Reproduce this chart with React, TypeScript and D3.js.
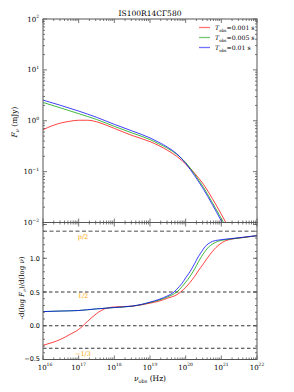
import React from 'react';
import * as d3 from 'd3';

// frequency exponents (log10 nu) and values
const fluxNuBlue = [16, 16.5, 17, 17.5, 18, 18.5, 19, 19.25, 19.5, 19.75, 20, 20.25, 20.5, 20.75, 21, 21.25];
const fluxBlue = [2.55, 2.0, 1.55, 1.17, 0.85, 0.63, 0.46, 0.376, 0.3, 0.224, 0.145, 0.083, 0.045, 0.0224, 0.0107, 0.0051];
const fluxGreen = [2.29, 1.78, 1.38, 1.06, 0.776, 0.575, 0.427, 0.351, 0.285, 0.219, 0.151, 0.089, 0.049, 0.0245, 0.012, 0.0058];
const fluxNuRed = [16, 16.25, 16.5, 16.75, 17, 17.25, 17.5, 17.75, 18, 18.5, 19, 19.25, 19.5, 19.75, 20, 20.25, 20.5, 20.75, 21, 21.25];
const fluxRed = [0.667, 0.794, 0.902, 0.977, 1.023, 1.023, 0.955, 0.832, 0.708, 0.513, 0.389, 0.324, 0.26, 0.2, 0.141, 0.093, 0.056, 0.0295, 0.0145, 0.0069];

const slopeNuBlue = [16, 16.5, 17, 17.5, 18, 18.5, 18.75, 19, 19.25, 19.5, 19.65, 19.75, 19.9, 20, 20.12, 20.25, 20.35, 20.45, 20.54, 20.65, 20.75, 20.92, 21.25, 21.5, 22];
const slopeBlue = [0.21, 0.218, 0.226, 0.25, 0.27, 0.292, 0.315, 0.35, 0.39, 0.445, 0.49, 0.54, 0.63, 0.71, 0.8, 0.92, 1.02, 1.1, 1.17, 1.22, 1.25, 1.27, 1.29, 1.305, 1.335];
const slopeNuGreen = [16, 16.5, 17, 17.5, 18, 18.5, 18.75, 19, 19.25, 19.5, 19.75, 19.9, 20, 20.12, 20.25, 20.35, 20.45, 20.54, 20.65, 20.75, 20.9, 21.05, 21.25, 21.5, 22];
const slopeGreen = [0.21, 0.218, 0.226, 0.25, 0.27, 0.29, 0.312, 0.345, 0.38, 0.43, 0.5, 0.58, 0.645, 0.73, 0.84, 0.94, 1.03, 1.1, 1.17, 1.21, 1.25, 1.27, 1.285, 1.3, 1.335];
const slopeNuRed = [16, 16.25, 16.5, 16.75, 17, 17.25, 17.5, 17.75, 18, 18.5, 19, 19.25, 19.5, 19.75, 19.86, 20, 20.12, 20.25, 20.35, 20.5, 20.63, 20.75, 20.85, 20.96, 21.1, 21.25, 21.5, 22];
const slopeRed = [-0.29, -0.25, -0.2, -0.13, -0.055, 0.065, 0.18, 0.255, 0.278, 0.29, 0.335, 0.365, 0.41, 0.46, 0.5, 0.57, 0.64, 0.73, 0.81, 0.92, 1.02, 1.1, 1.16, 1.21, 1.255, 1.28, 1.3, 1.335];

const legendLabels = ['0.001', '0.005', '0.01'];
const colors = ['#ff0000', '#00a000', '#0000ff'];
const refLines = [0.5, 0.0, -1 / 3];
const pHalf = 1.4;
const xTickExps = [16, 17, 18, 19, 20, 21, 22];
const yTopExps = [-2, -1, 0, 1, 2];
const yBotTicks = [-0.5, 0.0, 0.5, 1.0];

const L = 43, R = 257, T = 19, M = 222.5, B = 359.5;
const serif = '"DejaVu Serif", serif';
const sans = '"DejaVu Sans", sans-serif';
const axisCol = '#555';

export default function App() {
  const x = d3.scaleLog().domain([1e16, 1e22]).range([L, R]);
  const yTop = d3.scaleLog().domain([1e-2, 1e2]).range([M, T]);
  const yBot = d3.scaleLinear().domain([-0.5, 1.53]).range([B, M]);

  const topLine = d3.line<[number, number]>()
    .x(d => x(Math.pow(10, d[0])))
    .y(d => yTop(d[1]))
    .curve(d3.curveMonotoneX);
  const botLine = d3.line<[number, number]>()
    .x(d => x(Math.pow(10, d[0])))
    .y(d => yBot(d[1]))
    .curve(d3.curveMonotoneX);

  const zip = (a: number[], b: number[]) => a.map((v, i) => [v, b[i]] as [number, number]);
  const fluxSeries = [zip(fluxNuRed, fluxRed), zip(fluxNuBlue, fluxGreen), zip(fluxNuBlue, fluxBlue)];
  const slopeSeries = [zip(slopeNuRed, slopeRed), zip(slopeNuGreen, slopeGreen), zip(slopeNuBlue, slopeBlue)];

  // minor ticks for log axes
  const xMinor: number[] = [];
  for (let e = 16; e < 22; e++) for (let k = 2; k <= 9; k++) xMinor.push(k * Math.pow(10, e));
  const yMinor: number[] = [];
  for (let e = -2; e < 2; e++) for (let k = 2; k <= 9; k++) yMinor.push(k * Math.pow(10, e));
  const yBotMinor = d3.range(-5, 16).map(v => v / 10);

  const ticks: JSX.Element[] = [];
  const tk = (x1: number, y1: number, x2: number, y2: number) =>
    ticks.push(<line key={ticks.length} x1={x1} y1={y1} x2={x2} y2={y2} stroke={axisCol} strokeWidth={0.8} />);

  xTickExps.forEach(e => {
    const px = x(Math.pow(10, e));
    [T, M].forEach(yy => tk(px, yy, px, yy + 4));
    [M, B].forEach(yy => tk(px, yy, px, yy - 4));
  });
  xMinor.forEach(v => {
    const px = x(v);
    [T, M].forEach(yy => tk(px, yy, px, yy + 2));
    [M, B].forEach(yy => tk(px, yy, px, yy - 2));
  });
  yTopExps.forEach(e => {
    const py = yTop(Math.pow(10, e));
    tk(L, py, L + 4, py); tk(R, py, R - 4, py);
  });
  yMinor.forEach(v => {
    const py = yTop(v);
    tk(L, py, L + 2, py); tk(R, py, R - 2, py);
  });
  [...yBotTicks, 1.5].forEach(v => {
    const py = yBot(v);
    tk(L, py, L + 4, py); tk(R, py, R - 4, py);
  });
  yBotMinor.forEach(v => {
    const py = yBot(v);
    tk(L, py, L + 2, py); tk(R, py, R - 2, py);
  });

  return (
    <svg width={294} height={392} style={{ position: 'absolute', left: 0, top: 0 }}>
      <rect width={294} height={392} fill="#fff" />
      <defs>
        <clipPath id="clipTop"><rect x={L} y={T} width={R - L} height={M - T} /></clipPath>
        <clipPath id="clipBot"><rect x={L} y={M} width={R - L} height={B - M} /></clipPath>
      </defs>

      <text x={150} y={16} textAnchor="middle" fontFamily={serif} fontSize={7.5}>IS100R14CΓ580</text>

      {/* reference lines */}
      <line x1={L} x2={R} y1={yBot(pHalf)} y2={yBot(pHalf)} stroke="#888" strokeWidth={1.3} strokeDasharray="4,2.5" />
      {refLines.map((v, i) => (
        <line key={i} x1={L} x2={R} y1={yBot(v)} y2={yBot(v)} stroke="#000" strokeWidth={0.8} strokeDasharray="3.5,2.5" />
      ))}
      <text x={83} y={239} textAnchor="middle" fill="#ffa500" fontFamily={serif} fontSize={6.5}>p/2</text>
      <text x={83} y={298} textAnchor="middle" fill="#ffa500" fontFamily={serif} fontSize={6.5}>1/2</text>
      <text x={83} y={356} textAnchor="middle" fill="#ffa500" fontFamily={serif} fontSize={6.5}>−1/3</text>

      <g clipPath="url(#clipTop)">
        {fluxSeries.map((s, i) => (
          <path key={i} d={topLine(s) || ''} fill="none" stroke={colors[i]} strokeOpacity={0.75} strokeWidth={1} />
        ))}
      </g>
      <g clipPath="url(#clipBot)">
        {slopeSeries.map((s, i) => (
          <path key={i} d={botLine(s) || ''} fill="none" stroke={colors[i]} strokeOpacity={0.75} strokeWidth={1} />
        ))}
      </g>

      {ticks}
      <rect x={L} y={T} width={R - L} height={M - T} fill="none" stroke={axisCol} strokeWidth={1} />
      <rect x={L} y={M} width={R - L} height={B - M} fill="none" stroke={axisCol} strokeWidth={1} />

      {/* top y tick labels */}
      {yTopExps.map(e => (
        <text key={e} x={39} y={yTop(Math.pow(10, e)) + 2.5} textAnchor="end" fontFamily={serif} fontSize={7}>
          10<tspan fontSize={4.5} dy={-3.5}>{e < 0 ? '−' + Math.abs(e) : e}</tspan>
        </text>
      ))}
      {/* bottom y tick labels */}
      {yBotTicks.map(v => (
        <text key={v} x={40} y={yBot(v) + (v < 0 ? 1.5 : 2.5)} textAnchor="end" fontFamily={sans} fontSize={6.5}>
          {(v < 0 ? '−' : '') + Math.abs(v).toFixed(1)}
        </text>
      ))}
      {/* x tick labels */}
      {xTickExps.map(e => (
        <text key={e} x={x(Math.pow(10, e)) + (e === 16 ? 2 : 0)} y={369.5} textAnchor="middle" fontFamily={serif} fontSize={7}>
          10<tspan fontSize={4.5} dy={-3.5}>{e}</tspan>
        </text>
      ))}

      <text x={150} y={381} textAnchor="middle" fontFamily={serif} fontSize={7.5}>
        <tspan fontStyle="italic">ν</tspan><tspan fontSize={5} dy={2}>obs</tspan><tspan dy={-2}> (Hz)</tspan>
      </text>

      <text transform={`translate(17,${122}) rotate(-90)`} textAnchor="middle" fontFamily={serif} fontSize={7.5}>
        <tspan fontStyle="italic">F</tspan><tspan fontSize={5} dy={2} fontStyle="italic">ν</tspan><tspan dy={-2}> (mJy)</tspan>
      </text>
      <text transform={`translate(24,${288}) rotate(-90)`} textAnchor="middle" fontFamily={serif} fontSize={7}>
        -d(log <tspan fontStyle="italic">F</tspan><tspan fontSize={4.5} dy={2} fontStyle="italic">ν</tspan><tspan dy={-2}>)/d(log </tspan><tspan fontStyle="italic">ν</tspan>)
      </text>

      {/* legend */}
      {legendLabels.map((lab, i) => {
        const yy = 27.5 + i * 10;
        return (
          <g key={lab}>
            <line x1={199} x2={210} y1={yy} y2={yy} stroke={colors[i]} strokeOpacity={0.55} strokeWidth={1.3} />
            <text x={215} y={yy + 2.3} fontFamily={serif} fontSize={6.2}>
              <tspan fontStyle="italic">T</tspan><tspan fontSize={4.2} dy={1.8}>obs</tspan><tspan dy={-1.8}>={lab} s</tspan>
            </text>
          </g>
        );
      })}
    </svg>
  );
}
